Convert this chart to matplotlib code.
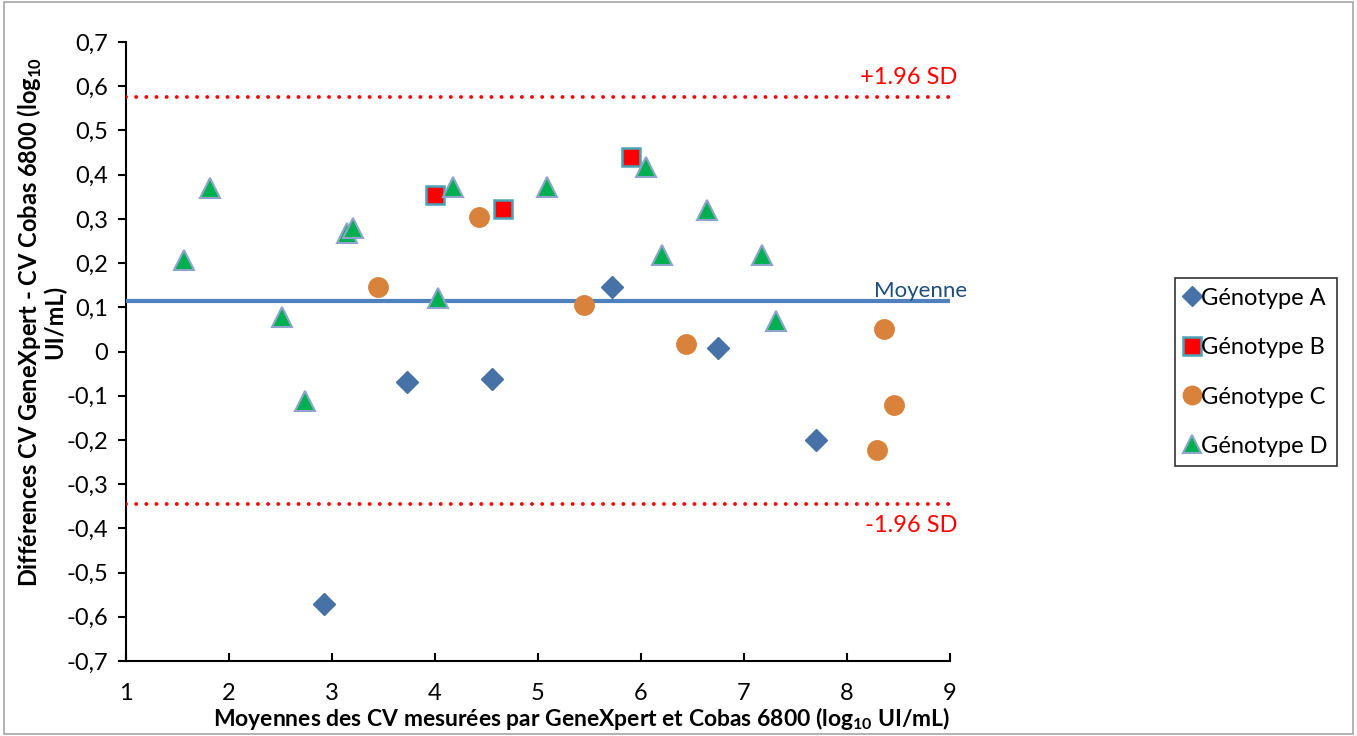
import numpy as np
import matplotlib
matplotlib.use("Agg")
import matplotlib.pyplot as plt
from matplotlib.patches import Rectangle
from matplotlib.ticker import FuncFormatter

# données
geno_a_x = [2.92, 3.73, 4.55, 5.72, 6.75, 7.70]
geno_a_y = [-0.57, -0.068, -0.063, 0.147, 0.009, -0.20]

geno_b_x = [4.00, 4.66, 5.90]
geno_b_y = [0.355, 0.323, 0.439]

geno_c_x = [3.45, 4.43, 5.45, 6.44, 8.36, 8.46, 8.29]
geno_c_y = [0.145, 0.305, 0.106, 0.018, 0.050, -0.12, -0.222]

geno_d_x = [1.56, 1.82, 2.51, 2.74, 3.15, 3.20, 4.03, 4.17, 5.09, 6.05, 6.20, 6.64, 7.17, 7.31]
geno_d_y = [0.208, 0.369, 0.079, -0.111, 0.269, 0.28, 0.12, 0.373, 0.371, 0.418, 0.219, 0.321, 0.219, 0.07]

moyenne = 0.115
sd_haut = 0.575
sd_bas = -0.345

plt.rcParams['font.family'] = ['Lato', 'DejaVu Sans']
plt.rcParams['mathtext.fontset'] = 'custom'
plt.rcParams['mathtext.rm'] = 'Lato'
plt.rcParams['mathtext.bf'] = 'Lato:bold'

fig = plt.figure(figsize=(13.57, 7.36), dpi=100)
W, H = 1357, 736
ax = fig.add_axes([126 / W, 1 - 661 / H, (950 - 126) / W, (661 - 42) / H])

# lignes moyenne et +/- 1.96 SD
ax.plot([1, 9], [moyenne, moyenne], color='#4F81BD', lw=3, zorder=1)
ax.plot([1, 9], [sd_haut, sd_haut], color='#FF0000', lw=2.8,
        linestyle=(0, (0.01, 2.6)), dash_capstyle='round', zorder=1)
ax.plot([1, 9], [sd_bas, sd_bas], color='#FF0000', lw=2.8,
        linestyle=(0, (0.01, 2.6)), dash_capstyle='round', zorder=1)

ax.plot(geno_a_x, geno_a_y, 'D', ms=11, color='#4672A8', mec='#4672A8',
        label='Génotype A', zorder=3)
ax.plot(geno_b_x, geno_b_y, 's', ms=13, color='#FF0000', mec='#4BA3B8', mew=1.8,
        label='Génotype B', zorder=3)
ax.plot(geno_c_x, geno_c_y, 'o', ms=14, color='#D9823B', mec='#D9823B',
        label='Génotype C', zorder=3)
ax.plot(geno_d_x, geno_d_y, '^', ms=14, color='#00B050', mec='#8EA4CC', mew=1.5,
        label='Génotype D', zorder=3)

ax.text(9.07, sd_haut + 0.02, '+1.96 SD', color='#FF0000', fontsize=17,
        ha='right', va='bottom')
ax.text(9.07, sd_bas - 0.025, '-1.96 SD', color='#FF0000', fontsize=17,
        ha='right', va='top')
ax.text(9.17, moyenne + 0.0, 'Moyenne', color='#1F4E79', fontsize=16,
        ha='right', va='bottom')

ax.set_xlim(1, 9)
ax.set_ylim(-0.7, 0.7)
ax.set_xticks(np.arange(1, 10))
ax.set_yticks(np.round(np.arange(-0.7, 0.71, 0.1), 1))


def virgule(v, pos):
    if abs(v) < 1e-9:
        return '0'
    return ('%.1f' % v).replace('.', ',')


ax.yaxis.set_major_formatter(FuncFormatter(virgule))
ax.tick_params(axis='y', direction='out', length=6, width=1.5, labelsize=17, pad=7)
ax.tick_params(axis='x', direction='in', length=6, width=1.5, labelsize=17, pad=16)
for s in ['top', 'right']:
    ax.spines[s].set_visible(False)
ax.spines['left'].set_linewidth(1.5)
ax.spines['bottom'].set_linewidth(1.5)
ax.spines['left'].set_zorder(0.5)

fig.text(582 / W, 1 - 719 / H,
         r'Moyennes des CV mesurées par GeneXpert et Cobas 6800 (log$_{\mathbf{10}}$ UI/mL)',
         fontsize=16.5, fontweight='bold', ha='center', va='center')
fig.text(41 / W, 1 - 322 / H,
         'Différences CV GeneXpert - CV Cobas 6800 (log$_{\\mathbf{10}}$\nUI/mL)',
         fontsize=17, fontweight='bold', ha='center', va='center', rotation=90,
         multialignment='center', linespacing=0.95)

leg = fig.legend(loc='upper left', bbox_to_anchor=(1175 / W, 1 - 278 / H),
                 fontsize=17, frameon=True, fancybox=False, edgecolor='black',
                 handletextpad=0.1, handlelength=0.6, labelspacing=1.15,
                 borderpad=0.4, borderaxespad=0, handleheight=0.9, markerscale=0.95)
leg.get_frame().set_linewidth(1.2)

fig.patches.append(Rectangle((0.003, 0.003), 0.994, 0.994, transform=fig.transFigure,
                             fill=False, edgecolor='#A6A6A6', lw=1.2))

fig.savefig('out.png', dpi=100)
